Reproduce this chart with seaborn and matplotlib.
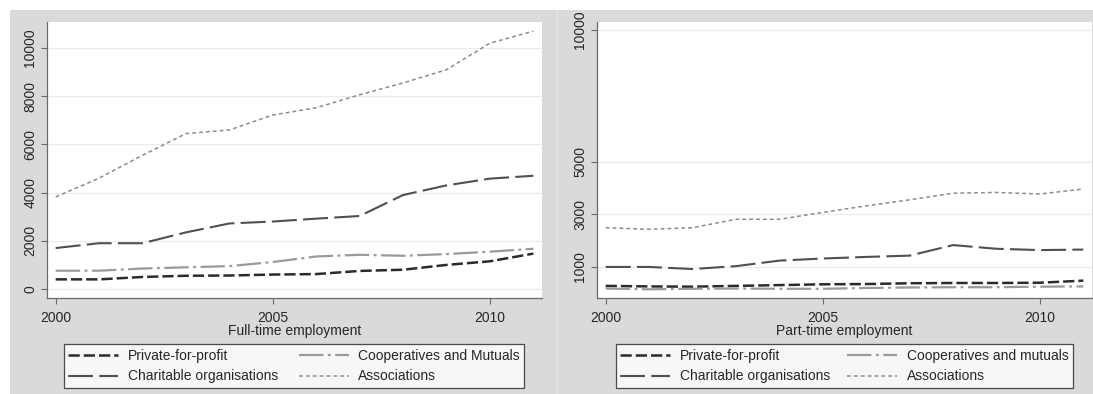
import matplotlib
matplotlib.use("Agg")
import matplotlib.pyplot as plt
import pandas as pd
import seaborn as sns
from matplotlib.patches import Rectangle
from matplotlib.lines import Line2D

# --- Data ---
years = list(range(2000, 2012))

ft_private = [400, 400, 500, 550, 560, 600, 620, 750, 800, 1000, 1150, 1470]
ft_charitable = [1700, 1900, 1900, 2350, 2720, 2800, 2920, 3030, 3900, 4300, 4580, 4700]
ft_coops = [760, 760, 850, 900, 950, 1120, 1350, 1420, 1380, 1450, 1550, 1670]
ft_assoc = [3820, 4600, 5550, 6450, 6600, 7220, 7520, 8060, 8550, 9100, 10200, 10700]

pt_private = [280, 260, 250, 280, 310, 340, 350, 380, 390, 390, 400, 480]
pt_charitable = [1000, 1000, 920, 1030, 1240, 1320, 1380, 1430, 1830, 1690, 1640, 1660]
pt_coops = [180, 150, 170, 180, 170, 170, 200, 220, 230, 230, 250, 260]
pt_assoc = [2490, 2430, 2490, 2810, 2810, 3070, 3320, 3550, 3800, 3830, 3770, 3960]

sectors = ["Private-for-profit", "Charitable organisations", "Cooperatives and Mutuals", "Associations"]
# legend labels, in the same order as `sectors` (legend fills column by column)
ft_labels = ["Private-for-profit", "Charitable organisations", "Cooperatives and Mutuals", "Associations"]
pt_labels = ["Private-for-profit", "Charitable organisations", "Cooperatives and mutuals", "Associations"]

ft_yticks = [0, 2000, 4000, 6000, 8000, 10000]
pt_yticks = [1000, 3000, 5000, 10000]
x_ticks = [2000, 2005, 2010]


def long_form(series):
    rows = []
    for name, vals in zip(sectors, series):
        for yr, v in zip(years, vals):
            rows.append({"year": yr, "value": v, "sector": name})
    return pd.DataFrame(rows)


df_ft = long_form([ft_private, ft_charitable, ft_coops, ft_assoc])
df_pt = long_form([pt_private, pt_charitable, pt_coops, pt_assoc])

# --- Styling ---
sns.set_theme(style="white")
plt.rcParams["font.family"] = ["Liberation Sans", "DejaVu Sans"]

palette = {
    "Private-for-profit": "#2b2b2b",
    "Charitable organisations": "#505050",
    "Cooperatives and Mutuals": "#9a9a9a",
    "Associations": "#8c8c8c",
}
dashes = {
    "Private-for-profit": (4.5, 1.6),
    "Charitable organisations": (12, 3),
    "Cooperatives and Mutuals": (11, 2, 1.3, 2),
    "Associations": (2.5, 2),
}
sizes = {
    "Private-for-profit": 1.8,
    "Charitable organisations": 1.5,
    "Cooperatives and Mutuals": 1.6,
    "Associations": 1.1,
}

W, H = 1093, 394
fig = plt.figure(figsize=(W / 100, H / 100), dpi=100)
fig.patch.set_facecolor("white")
fig.add_artist(Rectangle((10 / W, 0), 1, (H - 10) / H, transform=fig.transFigure,
                         facecolor="#dadada", edgecolor="none", zorder=0))
fig.add_artist(Line2D([557 / W, 557 / W], [0, (H - 10) / H], transform=fig.transFigure,
                      color="#e6e6e6", lw=1.0, zorder=1))

ax1 = fig.add_axes([47 / W, 1 - 298 / H, 495 / W, 276 / H])
ax2 = fig.add_axes([597 / W, 1 - 298 / H, 495 / W, 276 / H])

panels = [
    (ax1, df_ft, ft_yticks, (-373, 11080), "Full-time employment", ft_labels, 57, 531),
    (ax2, df_pt, pt_yticks, (-180, 10304), "Part-time employment", pt_labels, 609, 1080),
]

for ax, df, yticks, ylim, xlabel, labels, lx0, lx1 in panels:
    ax.set_facecolor("white")
    sns.lineplot(data=df, x="year", y="value", hue="sector", style="sector", size="sector",
                 palette=palette, dashes=dashes, sizes=sizes, legend=False, ax=ax,
                 zorder=3)
    ax.set_xlim(1999.8, 2011.2)
    ax.set_ylim(*ylim)
    ax.set_xticks(x_ticks)
    ax.set_yticks(yticks)
    ax.set_xticklabels([str(t) for t in x_ticks])
    ax.set_yticklabels([str(t) for t in yticks], rotation=90, va="center")
    ax.grid(axis="y", color="#e2eef0", lw=0.9)
    ax.grid(axis="x", visible=False)
    for s in ["top", "right"]:
        ax.spines[s].set_visible(False)
    for s in ["left", "bottom"]:
        ax.spines[s].set_color("#6a6a6a")
        ax.spines[s].set_linewidth(0.9)
    ax.tick_params(axis="both", direction="out", length=4, width=0.8, color="#6a6a6a",
                   labelsize=10, pad=3, left=True, bottom=True)
    ax.tick_params(axis="x", pad=5)
    ax.set_xlabel(xlabel, fontsize=10, labelpad=0)
    ax.set_ylabel("")

    # legend: column-major order gives rows Private|Coops and Charitable|Associations
    handles = []
    for name in sectors:
        h = Line2D([], [], color=palette[name], lw=sizes[name])
        h.set_dashes(dashes[name])
        handles.append(h)
    leg = fig.legend(handles, labels, ncol=2, mode="expand", loc="center",
                     bbox_to_anchor=(lx0 / W, 1 - 388 / H, (lx1 - lx0) / W, 44 / H),
                     bbox_transform=fig.transFigure, frameon=True, fancybox=False,
                     edgecolor="#222222", fontsize=10, handlelength=3.6,
                     handletextpad=0.7, labelspacing=0.5, borderpad=0.3,
                     columnspacing=1.0)
    leg.get_frame().set_linewidth(0.9)
    leg.get_frame().set_facecolor("white")

fig.savefig("out.png", dpi=100, facecolor=fig.get_facecolor())
